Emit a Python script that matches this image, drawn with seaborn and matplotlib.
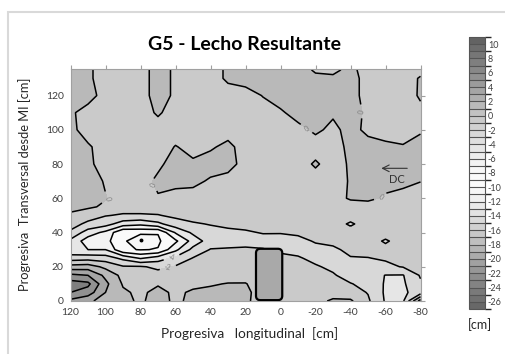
import numpy as np
import matplotlib
matplotlib.use("Agg")
import matplotlib.pyplot as plt
import seaborn as sns
from matplotlib.colors import ListedColormap, BoundaryNorm
from matplotlib.cm import ScalarMappable
from matplotlib.patches import FancyBboxPatch, Rectangle

# Survey grid: longitudinal stations (cm) and transversal stations from the left bank (cm)
x_long = [120, 110, 100, 90, 80, 70, 60, 50, 40, 30, 20, 10, 0,
          -10, -20, -30, -40, -50, -60, -70, -80]
y_trans = [0, 5, 10, 15, 20, 25, 30, 35, 40, 45, 50, 55, 60,
           70, 80, 90, 100, 110, 120, 130, 135]

# Bed level change (cm), one row per transversal station
bed_change = [
    [3.5, 2.5, 1.0, 0.5, -0.3, 0.8, -0.4, 0.5, 0.6, 0.6, 0.4, -1.0, -1.0, -1.0, -0.8, 0.4, 0.3, -1.7, -4.2, -4.3, 3.0],
    [6.0, 5.0, 2.0, 0.3, -0.4, 0.6, -0.4, 0.3, 0.5, 0.6, 0.5, -1.0, -1.0, -1.0, -0.9, -1.1, -1.2, -2.1, -4.3, -4.4, -3.0],
    [7.0, 6.5, 2.5, -0.2, -0.6, -0.2, -0.8, -0.5, -0.2, 0.1, 0.1, -1.0, -1.0, -1.0, -1.0, -1.4, -1.9, -2.6, -4.2, -4.3, -2.3],
    [4.5, 4.0, 1.5, -0.6, -1.2, -1.3, -1.2, -1.1, -1.0, -0.9, -0.8, -1.1, -1.1, -1.1, -1.3, -1.8, -2.8, -3.2, -4.05, -4.1, -1.8],
    [0.8, 1.0, -0.5, -1.8, -1.8, -2.4, -1.8, -1.4, -1.4, -1.2, -1.2, -1.3, -1.3, -1.3, -1.8, -2.4, -3.0, -3.0, -2.4, -1.9, -1.5],
    [-3.0, -2.8, -3.0, -4.5, -6.2, -5.0, -3.5, -1.9, -1.5, -1.4, -1.4, -1.5, -1.6, -1.8, -2.5, -2.8, -2.1, -2.05, -1.8, -1.5, -1.3],
    [-5.5, -6.0, -6.0, -9.7, -10.1, -9.9, -6.5, -3.4, -1.9, -1.8, -1.7, -1.9, -2.3, -2.6, -2.5, -2.3, -1.6, -1.5, -1.5, -1.3, -1.2],
    [-4.5, -7.0, -7.4, -9.6, -11.5, -10.3, -8.4, -5.2, -3.0, -2.8, -2.7, -2.6, -2.7, -2.5, -1.85, -1.6, -1.4, -1.3, -2.2, -1.3, -1.2],
    [-2.3, -5.0, -6.5, -9.8, -9.6, -9.9, -5.8, -3.6, -2.6, -2.4, -2.2, -1.9, -1.9, -1.7, -1.4, -1.3, -1.3, -1.2, -1.3, -1.2, -1.2],
    [-1.3, -2.4, -3.2, -5.0, -5.5, -4.5, -2.8, -2.2, -1.9, -1.6, -1.5, -1.4, -1.4, -1.3, -1.2, -1.2, -2.25, -1.2, -1.2, -1.2, -1.2],
    [-0.3, -1.2, -1.9, -2.2, -2.2, -2.1, -1.6, -1.3, -1.3, -1.3, -1.3, -1.3, -1.3, -1.2, -1.2, -1.2, -1.2, -1.2, -1.2, -1.2, -1.2],
    [0.5, 0.3, -0.3, -1.2, -1.2, -1.1, -1.2, -1.2, -1.2, -1.2, -1.2, -1.2, -1.2, -1.2, -1.2, -1.2, -1.2, -1.2, -1.2, -1.2, -1.2],
    [1.0, 1.0, 0.1, -1.0, -0.3, -0.2, -1.0, -1.0, -1.0, -1.0, -1.0, -1.0, -1.0, -1.0, -1.0, -1.0, 0.3, 0.6, -0.4, -0.8, -1.0],
    [1.0, 1.0, -0.2, -1.0, -1.0, 0.5, 0.8, 0.6, -0.3, -1.0, -1.0, -1.0, -1.0, -1.0, -1.0, -1.0, 0.2, 1.0, 1.0, 0.6, 0.05],
    [1.0, 0.5, -1.0, -1.0, -1.0, -0.5, 1.0, 0.3, 1.0, 1.0, -1.0, -1.0, -1.0, -1.0, 0.3, -1.0, 0.3, 1.0, 1.0, 1.0, 1.0],
    [1.0, 0.3, -1.0, -1.0, -1.0, -1.0, 0.1, -0.6, -0.3, 0.6, -1.0, -1.0, -1.0, -1.0, -1.0, -1.0, 0.6, 0.8, 0.4, 0.1, 0.6],
    [0.6, -1.0, -1.0, -1.0, -1.0, -1.0, -1.0, -1.0, -1.0, -1.0, -1.0, -1.0, -1.0, -0.6, 0.4, -0.5, 0.7, -0.5, -0.8, -0.6, -0.2],
    [0.4, -1.0, -1.0, -1.0, -1.0, 0.3, -1.0, -1.0, -1.0, -1.0, -1.0, -1.0, -0.3, 0.8, 1.0, 0.3, 1.0, -0.5, -1.0, -1.0, -0.5],
    [1.0, 1.0, -1.0, -1.0, -1.0, 1.0, -0.4, -1.0, -1.0, -1.0, -1.0, 0.1, 1.0, 1.0, 1.0, 1.0, 1.0, -1.0, -1.0, -1.0, 0.25],
    [1.0, 0.4, -1.0, -1.0, -1.0, 1.0, -0.4, -1.0, -1.0, 0.4, 1.0, 1.0, 1.0, 1.0, 0.5, 0.4, 1.0, -1.0, -1.0, -1.0, 0.2],
    [1.0, 0.4, -1.0, -1.0, -1.0, 1.0, -0.4, -1.0, -1.0, 0.4, 1.0, 1.0, 1.0, 1.0, -0.3, -0.5, 0.6, -1.0, -1.0, -1.0, -0.6],
]

# Contour levels that carry inline labels, and where the labels sit
labelled_levels = [-4, -2, 0]
label_spots = [(97.5, 59), (76.5, 66), (-15, 101), (-48, 111),
               (-57, 61), (63, 28.7), (65, 22)]

# Groyne footprint (cm)
groyne_x = [-1, 14]
groyne_y = [0.5, 30.5]

# Colour scale: gray level at each bed change value
scale_vals = [-27, -26, -24, -22, -20, -18, -16, -14, -12, -10, -8, -6, -4, -2, 0, 2, 4, 6, 8, 10, 11]
scale_gray = [100, 108, 126, 146, 166, 186, 204, 222, 238, 250, 250, 240, 226, 212, 198, 180, 160, 140, 122, 104, 94]

sns.set_theme(style="white")
plt.rcParams["font.family"] = ["Lato", "DejaVu Sans"]
plt.rcParams["axes.unicode_minus"] = False
plt.rcParams["contour.negative_linestyle"] = "solid"

bounds = np.arange(-27, 12, 1)
centers = (bounds[:-1] + bounds[1:]) / 2
gray = np.interp(centers, scale_vals, scale_gray) / 255.0
cmap = ListedColormap([(g, g, g) for g in gray])
norm = BoundaryNorm(bounds, cmap.N)

X, Y = np.meshgrid(np.array(x_long, float), np.array(y_trans, float))
Z = np.array(bed_change, float)

fig = plt.figure(figsize=(5.05, 3.54), dpi=100)
fig.patch.set_facecolor("white")
fig.patches.append(Rectangle((8 / 505, -0.1), 1.2, (354 - 12) / 354 + 0.1,
                             transform=fig.transFigure, fill=False,
                             ec="#d9d9d9", lw=1.5))

ax = fig.add_axes([70.5 / 505, 53 / 354, 350 / 505, 232 / 354])
fill_levels = np.arange(-28, 13, 2)
plain_levels = [v for v in range(-26, 11, 2) if v not in labelled_levels]
ax.contourf(X, Y, Z, levels=fill_levels, cmap=cmap, norm=norm)
ax.contour(X, Y, Z, levels=plain_levels, colors="black", linewidths=1.1,
           linestyles="solid")
cs = ax.contour(X, Y, Z, levels=labelled_levels, colors="black",
                linewidths=1.1, linestyles="solid")
ax.clabel(cs, inline=True, fontsize=5, colors="#808080", fmt="%d",
          manual=label_spots)
ax.plot([80], [35.5], marker="o", ms=1.8, color="black")

ax.add_patch(FancyBboxPatch((groyne_x[0] + 2.5, groyne_y[0] + 2.5),
                            groyne_x[1] - groyne_x[0] - 5, groyne_y[1] - groyne_y[0] - 5,
                            boxstyle="round,pad=2.5", fc="#a9a9a9", ec="black",
                            lw=1.6, zorder=5))

ax.annotate("", xy=(-56, 77.5), xytext=(-74, 77.5),
            arrowprops=dict(arrowstyle="->", color="#333333", lw=0.8))
ax.text(-66.4, 70.7, "DC", ha="center", va="center", fontsize=8, color="#333333")

ax.set_xlim(120, -80)
ax.set_ylim(0, 135.5)
ax.set_xticks(range(120, -81, -20))
ax.set_yticks(range(0, 121, 20))
for s in ax.spines.values():
    s.set_color("#a0a0a0")
    s.set_linewidth(0.8)
ax.tick_params(direction="out", length=3, width=0.8, color="#a0a0a0",
               labelsize=7.5, labelcolor="#404040", top=True, right=True,
               labeltop=False, labelright=False, pad=2)

fig.text(245 / 505, 1 - 45 / 354, "G5 - Lecho Resultante", ha="center",
         va="center", fontsize=14, fontweight="bold", color="black")
fig.text(250 / 505, 1 - 334 / 354, "Progresiva   longitudinal  [cm]",
         ha="center", va="center", fontsize=9.8, color="#262626")
fig.text(25 / 505, 1 - 184 / 354, "Progresiva  Transversal desde MI [cm]",
         ha="center", va="center", rotation=90, fontsize=9.3, color="#262626")

cax = fig.add_axes([469 / 505, 45 / 354, 16 / 505, 272 / 354])
sm = ScalarMappable(norm=norm, cmap=cmap)
cb = fig.colorbar(sm, cax=cax, boundaries=bounds, ticks=range(-26, 11, 2),
                  drawedges=True)
cb.outline.set_edgecolor("#555555")
cb.outline.set_linewidth(0.8)
cb.dividers.set_color("#555555")
cb.dividers.set_linewidth(0.8)
cax.tick_params(labelsize=6.5, length=0, pad=2, labelcolor="#404040")
fig.text(480 / 505, 1 - 325 / 354, "[cm]", ha="center", va="center",
         fontsize=9, color="#262626")

fig.savefig("out.png", dpi=100)
